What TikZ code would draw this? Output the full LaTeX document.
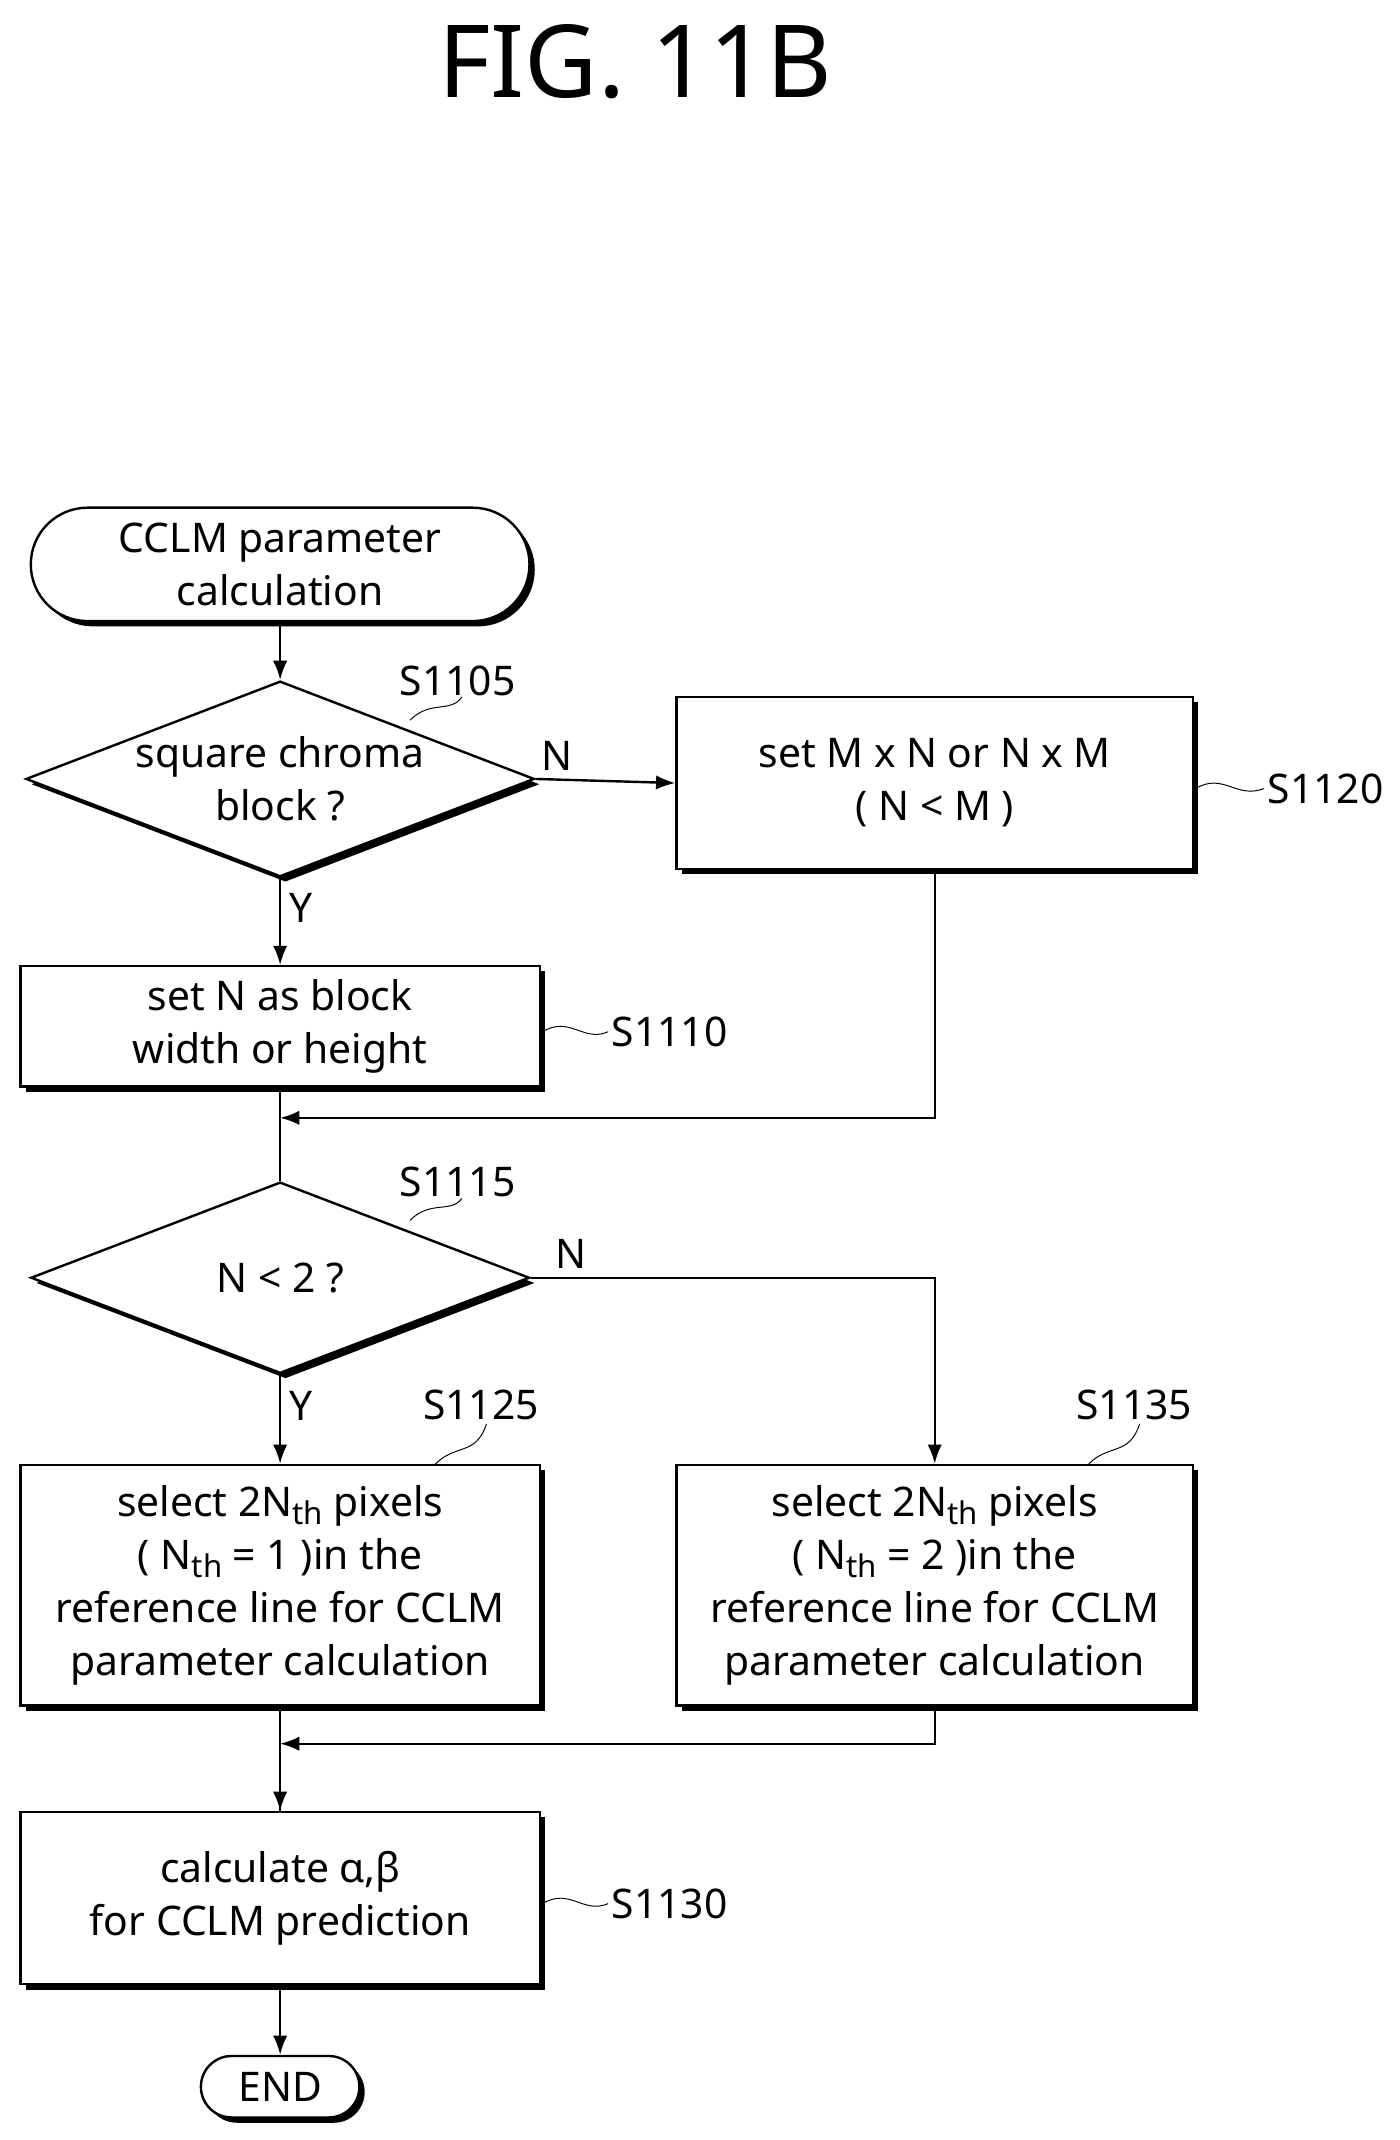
\documentclass[tikz,border=0pt]{standalone}
\usepackage{fontspec}
\setmainfont{Noto Sans}
\usetikzlibrary{shapes.geometric,shadows,arrows.meta}

\newcommand{\thsub}{\raisebox{-0.35ex}{\fontsize{13}{13}\selectfont th}}

\begin{document}
\begin{tikzpicture}[x=0.02cm,y=-0.02cm,
	shad/.style={drop shadow={shadow xshift=2.2pt,shadow yshift=-2.2pt,fill=black,opacity=1}},
	stp/.style={draw,line width=1pt,fill=white,shad,align=center,inner sep=0pt,
		font=\fontsize{17}{22}\selectfont},
	proc/.style={stp,rectangle,minimum width=7.6cm},
	term/.style={stp,rounded corners=0.83cm},
	dec/.style={stp,diamond,minimum width=7.3cm,minimum height=2.8cm,aspect=2.6},
	lbl/.style={font=\fontsize{17}{20}\selectfont},
	flow/.style={line width=1pt,-{Latex[length=8pt,width=6pt]}}]
	\useasboundingbox (0,0) rectangle (1024,1566);
	\node[font=\fontsize{42}{42}\selectfont] (title) at (465,45) {FIG. 11B};
	% steps
	\node[term,minimum width=7.3cm,minimum height=1.66cm] (start) at (205,413) {CCLM parameter\\calculation};
	\node[dec] (d1105) at (205,570) {square chroma\\block ?};
	\node[proc,minimum width=7.56cm,minimum height=2.52cm] (s1120) at (684,573) {set M x N or N x M\\( N < M )};
	\node[proc,minimum height=1.76cm] (s1110) at (205,751) {set N as block\\width or height};
	\node[dec] (d1115) at (205,935) {N < 2 ?};
	\node[proc,minimum height=3.52cm] (s1125) at (205,1160) {select 2N\thsub\ pixels\\( N\thsub\ = 1 )in the\\reference line for CCLM\\parameter calculation};
	\node[proc,minimum width=7.56cm,minimum height=3.52cm] (s1135) at (684,1160) {select 2N\thsub\ pixels\\( N\thsub\ = 2 )in the\\reference line for CCLM\\parameter calculation};
	\node[proc,minimum height=2.52cm] (s1130) at (205,1389) {calculate α,β\\for CCLM prediction};
	\node[term,minimum width=2.32cm,minimum height=0.9cm,rounded corners=0.45cm] (end) at (205,1527) {END};
	% connectors
	\coordinate (m1) at (205,818);
	\coordinate (m2) at (205,1276);
	\draw[flow] (start) -- (d1105);
	\draw[flow] (d1105.east) -- (s1120.west) node[lbl,pos=0.15,above] {N};
	\draw[flow] (d1105) -- (s1110) node[lbl,pos=0.35,right] {Y};
	\draw[line width=1pt] (s1110) -- (d1115);
	\draw[flow] (s1120.south) |- (m1);
	\draw[flow] (d1115.east) -| (s1135.north) node[lbl,pos=0.05,above] {N};
	\draw[flow] (d1115) -- (s1125) node[lbl,pos=0.35,right] {Y};
	\draw[line width=1pt] (s1125) -- (s1130);
	\draw[flow] (s1135.south) |- (m2);
	\draw[flow] (m2) -- (s1130);
	\draw[flow] (s1130) -- (end);
	% step labels
	\node[lbl] (l1105) at (335,498) {S1105};
	\draw (300,527) .. controls (315,512) and (330,522) .. (338,510);
	\node[lbl] (l1120) at (970,577) {S1120};
	\draw (875,577) .. controls (895,565) and (905,585) .. (925,577);
	\node[lbl] (l1110) at (490,755) {S1110};
	\draw (397,755) .. controls (417,743) and (427,763) .. (445,755);
	\node[lbl] (l1115) at (335,865) {S1115};
	\draw (300,893) .. controls (315,878) and (330,888) .. (338,877);
	\node[lbl] (l1125) at (352,1028) {S1125};
	\draw (318,1072) .. controls (333,1056) and (348,1066) .. (356,1042);
	\node[lbl] (l1135) at (830,1028) {S1135};
	\draw (796,1072) .. controls (811,1056) and (826,1066) .. (834,1042);
	\node[lbl] (l1130) at (490,1393) {S1130};
	\draw (397,1393) .. controls (417,1381) and (427,1401) .. (445,1393);
\end{tikzpicture}
\end{document}
